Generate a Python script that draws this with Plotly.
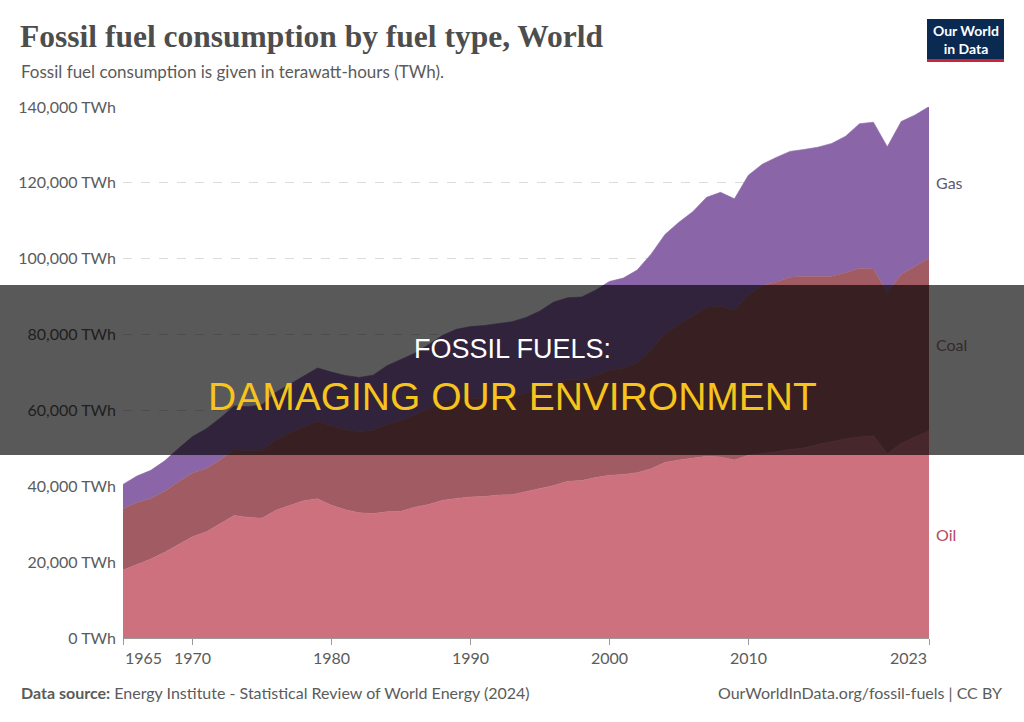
import plotly.graph_objects as go

years = list(range(1965, 2024))

oil = [17900, 19400, 20800, 22600, 24700, 26700, 28000, 30100, 32300, 31800,
       31600, 33700, 34900, 36200, 36700, 35000, 33800, 33000, 32800, 33300,
       33400, 34500, 35200, 36300, 36800, 37200, 37300, 37700, 37800, 38600,
       39300, 40200, 41300, 41500, 42300, 42900, 43100, 43600, 44600, 46300,
       46900, 47400, 47900, 47700, 46900, 48200, 48600, 49100, 49700, 50100,
       51000, 51800, 52500, 53000, 53300, 48600, 51300, 53000, 54600]

coal = [16200, 16300, 16000, 16100, 16500, 16800, 16700, 16900, 17400, 17500,
        17900, 18600, 19200, 19500, 20500, 20900, 21100, 21400, 22000, 23000,
        24000, 24400, 25200, 25800, 26200, 26000, 25800, 25700, 25900, 26000,
        26400, 26900, 26900, 26600, 26900, 27700, 28100, 28900, 31400, 33900,
        35800, 37500, 39300, 39800, 39600, 42300, 44300, 44700, 45400, 45300,
        44300, 43600, 43800, 44500, 44000, 42400, 44600, 45000, 45500]

gas = [6400, 7000, 7400, 8000, 8800, 9600, 10500, 11000, 11500, 11700,
       12000, 12500, 12800, 13300, 14000, 14200, 14300, 14300, 14500, 15500,
       16000, 16200, 17000, 17700, 18400, 18900, 19300, 19400, 19700, 19900,
       20500, 21500, 21500, 21800, 22500, 23400, 23700, 24500, 25200, 26200,
       26900, 27500, 29000, 30000, 29300, 31500, 32000, 32900, 33200, 33400,
       34100, 35000, 36000, 38100, 38700, 38500, 40300, 39900, 40000]

series_names = ["Oil", "Coal", "Gas"]
fill_colors = ["#cd717f", "#a15b63", "#8a66a8"]
label_colors = ["#b34a62", "#35292b", "#5f5873"]

y_ticks = [0, 20000, 40000, 60000, 80000, 100000, 120000, 140000]
y_tick_text = [f"{v:,} TWh" for v in y_ticks]
x_ticks = [1965, 1970, 1980, 1990, 2000, 2010, 2023]

title = "Fossil fuel consumption by fuel type, World"
subtitle = "Fossil fuel consumption is given in terawatt-hours (TWh)."
source = "<b>Data source:</b> Energy Institute - Statistical Review of World Energy (2024)"
credit = "OurWorldInData.org/fossil-fuels | CC BY"
logo_text = "<b>Our World</b><br><b>in Data</b>"
banner_line1 = "FOSSIL FUELS:"
banner_line2 = "DAMAGING OUR ENVIRONMENT"

# layout geometry (pixels)
W, H = 1024, 722
L, R, T, B = 123, 929, 107, 638
PW, PH = R - L, B - T


def px(x):
    return (x - L) / PW


def py(y):
    return (B - y) / PH


fig = go.Figure()
for name, vals, col in zip(series_names, [oil, coal, gas], fill_colors):
    fig.add_trace(go.Scatter(
        x=years, y=vals, name=name, mode="lines",
        stackgroup="one", fillcolor=col,
        line=dict(width=0.6, color=col),
        hoverinfo="x+y+name",
    ))

ann = []
# series labels at the last year, at mid of each band
cum = 0
for name, vals, col in zip(series_names, [oil, coal, gas], label_colors):
    mid = cum + vals[-1] / 2
    cum += vals[-1]
    ann.append(dict(x=px(934), xref="paper", y=mid, yref="y", text=name,
                    xanchor="left", yanchor="middle", showarrow=False,
                    font=dict(family="Lato", size=16, color=col)))

# x tick labels
for i, yr in enumerate(x_ticks):
    anchor = "left" if i == 0 else ("right" if i == len(x_ticks) - 1 else "center")
    ann.append(dict(x=yr, xref="x", y=py(657), yref="paper", text=str(yr),
                    xanchor=anchor, yanchor="middle", showarrow=False,
                    font=dict(family="Lato", size=16, color="#5b5b5b")))

ann += [
    dict(x=px(965.5), xref="paper", y=py(39), yref="paper", text=logo_text,
         xanchor="center", yanchor="middle", showarrow=False,
         font=dict(family="Lato", size=14, color="#ffffff")),
    dict(x=px(18), xref="paper", y=py(37), yref="paper", text=f"<b>{title}</b>",
         xanchor="left", yanchor="middle", showarrow=False,
         font=dict(family="Liberation Serif", size=31.5, color="#4d4d4d")),
    dict(x=px(19), xref="paper", y=py(72), yref="paper", text=subtitle,
         xanchor="left", yanchor="middle", showarrow=False,
         font=dict(family="Lato", size=17, color="#5b5b5b")),
    dict(x=px(19), xref="paper", y=py(692), yref="paper", text=source,
         xanchor="left", yanchor="middle", showarrow=False,
         font=dict(family="Lato", size=16, color="#5b5b5b")),
    dict(x=px(1004), xref="paper", y=py(692), yref="paper", text=credit,
         xanchor="right", yanchor="middle", showarrow=False,
         font=dict(family="Lato", size=16, color="#5b5b5b")),
    dict(x=px(512), xref="paper", y=py(349), yref="paper", text=banner_line1,
         xanchor="center", yanchor="middle", showarrow=False,
         font=dict(family="Liberation Sans", size=27, color="#ffffff")),
    dict(x=px(512), xref="paper", y=py(397), yref="paper", text=banner_line2,
         xanchor="center", yanchor="middle", showarrow=False,
         font=dict(family="Liberation Sans", size=39, color="#f6c41c")),
]

shapes = [
    # logo box
    dict(type="rect", xref="paper", yref="paper", x0=px(927), x1=px(1004),
         y0=py(19), y1=py(62), fillcolor="#0b2a52", line=dict(width=0), layer="above"),
    dict(type="rect", xref="paper", yref="paper", x0=px(927), x1=px(1004),
         y0=py(59), y1=py(62), fillcolor="#c8243a", line=dict(width=0), layer="above"),
    # banner overlay
    dict(type="rect", xref="paper", yref="paper", x0=px(0), x1=px(W),
         y0=py(285), y1=py(455), fillcolor="rgba(0,0,0,0.65)",
         line=dict(width=0), layer="above"),
]

fig.update_layout(
    width=W, height=H,
    margin=dict(l=L, r=W - R, t=T, b=H - B, pad=0),
    paper_bgcolor="white", plot_bgcolor="white",
    showlegend=False,
    annotations=ann, shapes=shapes,
    xaxis=dict(range=[years[0], years[-1]], tickvals=x_ticks, showticklabels=False,
               ticks="outside", ticklen=6, tickcolor="#9a9a9a", showgrid=False,
               showline=True, linecolor="#9a9a9a", linewidth=1, zeroline=False,
               fixedrange=True),
    yaxis=dict(range=[0, y_ticks[-1]], tickmode="array", tickvals=y_ticks,
               ticktext=y_tick_text, showgrid=True, gridcolor="#dcdcdc",
               griddash="dash", gridwidth=1, zeroline=False, showline=False,
               ticks="", ticklabelstandoff=6,
               tickfont=dict(family="Lato", size=16, color="#5b5b5b"),
               fixedrange=True),
)

fig.write_html("out.html")
